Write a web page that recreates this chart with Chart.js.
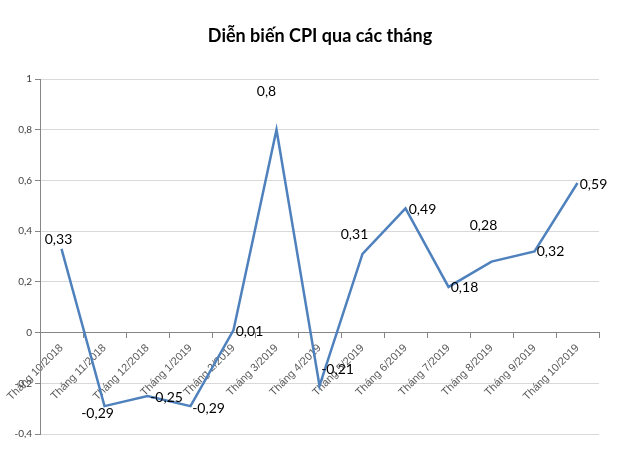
<!DOCTYPE html>
<html>
<head>
<meta charset="utf-8">
<script src="https://cdn.jsdelivr.net/npm/chart.js@4"></script>
<style>
  html, body { margin: 0; padding: 0; background: #fff; }
  #wrap { width: 630px; height: 475px; }
</style>
</head>
<body>
<div id="wrap"><canvas id="cpiChart"></canvas></div>
<script>
// Chart data
const chartTitle = 'Diễn biến CPI qua các tháng';
const months = [
  'Tháng 10/2018', 'Tháng 11/2018', 'Tháng 12/2018', 'Tháng 1/2019',
  'Tháng 2/2019', 'Tháng 3/2019', 'Tháng 4/2019', 'Tháng 5/2019',
  'Tháng 6/2019', 'Tháng 7/2019', 'Tháng 8/2019', 'Tháng 9/2019',
  'Tháng 10/2019'
];
const cpiValues = [0.33, -0.29, -0.25, -0.29, 0.01, 0.8, -0.21, 0.31, 0.49, 0.18, 0.28, 0.32, 0.59];
const yTicks = [-0.4, -0.2, 0, 0.2, 0.4, 0.6, 0.8, 1];

// label offsets from each point (style only)
const labelOffsets = [
  [-3, -9], [-7, 7], [19, 2], [18, 2], [16, 1], [-10, -38], [18, -16],
  [-8, -19], [17, 1], [16, 1], [-8, -36], [16, 0], [16, 2]
];

const fmt = (v) => String(Number(v.toFixed(2))).replace('.', ',');

const LABEL_FONT = "14px 'Lato', sans-serif";

// Draw value labels next to points, plus the title
const valueLabels = {
  id: 'valueLabels',
  afterDraw(chart) {
    const ctx = chart.ctx;
    ctx.save();
    ctx.font = "bold 18px 'Lato', sans-serif";
    ctx.fillStyle = '#000';
    ctx.textAlign = 'center';
    ctx.textBaseline = 'middle';
    ctx.fillText(chartTitle, 320, 36);
    ctx.restore();
  },
  afterDatasetsDraw(chart) {
    const ctx = chart.ctx;
    const meta = chart.getDatasetMeta(0);
    ctx.save();
    ctx.font = LABEL_FONT;
    ctx.fillStyle = '#000';
    ctx.textAlign = 'center';
    ctx.textBaseline = 'middle';
    meta.data.forEach((pt, i) => {
      const off = labelOffsets[i];
      ctx.fillText(fmt(cpiValues[i]), pt.x + off[0], pt.y + off[1]);
    });
    ctx.restore();
  },
};

const ctx = document.getElementById('cpiChart').getContext('2d');

new Chart(ctx, {
  type: 'line',
  data: {
    labels: months,
    datasets: [
      {
        label: 'CPI',
        data: cpiValues,
        borderColor: '#4f81bd',
        borderWidth: 2.5,
        pointRadius: 0,
        tension: 0,
      },
    ],
  },
  options: {
    responsive: true,
    maintainAspectRatio: false,
    animation: false,
    layout: {
      padding: { left: 0, right: 31, bottom: 41, top: 79 },
    },
    scales: {
      x: {
        position: { y: 0 },
        offset: true,
        grid: {
          offset: true,
          drawOnChartArea: false,
          drawTicks: true,
          tickLength: 5,
          color: '#868686',
        },
        border: { color: '#868686', width: 1 },
        ticks: {
          minRotation: 45,
          maxRotation: 45,
          autoSkip: false,
          padding: 4,
          color: '#595959',
          font: { family: "'Liberation Sans', Arial, sans-serif", size: 11 },
        },
      },
      y: {
        min: -0.4,
        max: 1,
        afterFit(scale) { scale.width = 40; },
        afterBuildTicks(scale) { scale.ticks = yTicks.map((v) => ({ value: v })); },
        grid: {
          color: '#d9d9d9',
          drawTicks: true,
          tickLength: 5,
          tickColor: '#868686',
        },
        border: { color: '#868686', width: 1 },
        ticks: {
          padding: 3,
          color: '#404040',
          font: { family: "'Lato', sans-serif", size: 10 },
          callback: (v) => fmt(v),
        },
      },
    },
    plugins: {
      legend: { display: false },
      tooltip: { enabled: false },
      title: { display: false },
    },
  },
  plugins: [valueLabels],
});
</script>
</body>
</html>
